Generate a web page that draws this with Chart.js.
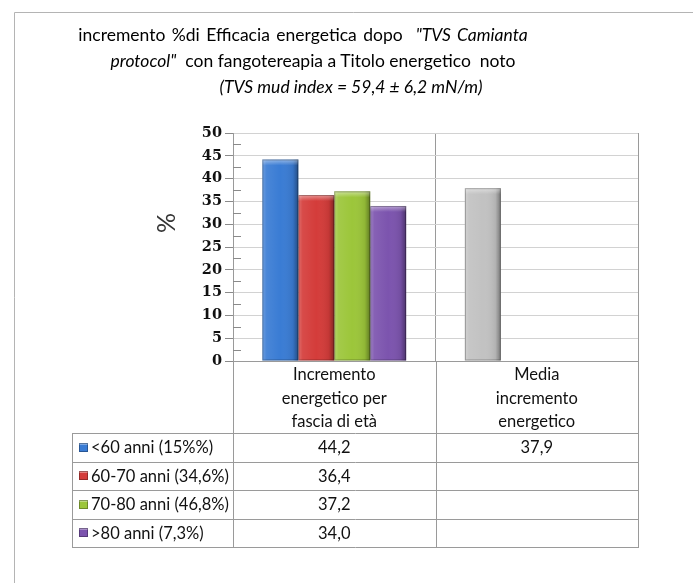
<!DOCTYPE html>
<html>
<head>
<meta charset="utf-8">
<script src="https://cdn.jsdelivr.net/npm/chart.js@4.4.1/dist/chart.umd.min.js"></script>
<style>
  html, body { margin: 0; padding: 0; background: #fff; }
  #wrap { position: relative; width: 693px; height: 583px; overflow: hidden; }
  #c { position: absolute; left: 0; top: 0; }
  .tl { position: absolute; width: 600px; text-align: center; white-space: pre;
        font-family: Lato, "Open Sans", sans-serif; font-size: 17.5px; line-height: 26px; color: #000; }
</style>
</head>
<body>
<div id="wrap">
  <canvas id="c" width="693" height="583"></canvas>
  <div class="tl" style="left:3px; top:22px; word-spacing:2px;">incremento %di Efficacia energetica dopo  <i>"TVS Camianta</i></div>
  <div class="tl" style="left:13px; top:48px;"><i>protocol"</i>  con fangotereapia a Titolo energetico  noto</div>
  <div class="tl" style="left:51px; top:74px;"><i>(TVS mud index = 59,4 ± 6,2 mN/m)</i></div>
</div>
<script>
// ---- data ----
const categories = [["Incremento", "energetico per", "fascia di età"], ["Media", "incremento", "energetico"]];
const seriesLabels = ["<60 anni (15%%)", "60-70 anni (34,6%)", "70-80 anni (46,8%)", ">80 anni (7,3%)"];
const series1 = [44.2, 37.9];
const series2 = [36.4, null];
const series3 = [37.2, null];
const series4 = [34.0, null];
const yTicks = [0, 5, 10, 15, 20, 25, 30, 35, 40, 45, 50];
const seriesColors = ["#3a7cd4", "#d43c3a", "#9cc63a", "#7c54ae"];
const mediaColor = "#c2c2c2";
const seriesData = [series1, series2, series3, series4];

const fmt = v => (v === null || v === undefined) ? "" : v.toFixed(1).replace(".", ",");

const TABLE_FONT = "16.5px Lato, 'Open Sans', sans-serif";
const LINE = "#9a9a9a";

const framePlugin = {
  id: "frame",
  beforeDraw(chart) {
    const ctx = chart.ctx;
    ctx.save();
    ctx.strokeStyle = "#b4b4b4";
    ctx.lineWidth = 1;
    ctx.beginPath();
    ctx.moveTo(14.5, 583); ctx.lineTo(14.5, 12.5); ctx.lineTo(693, 12.5);
    ctx.stroke();
    ctx.restore();
  }
};

const bevelPlugin = {
  id: "bevel",
  afterDatasetsDraw(chart) {
    const ctx = chart.ctx;
    ctx.save();
    chart.data.datasets.forEach((ds, di) => {
      const meta = chart.getDatasetMeta(di);
      meta.data.forEach((bar, i) => {
        if (ds.data[i] === null) return;
        const p = bar.getProps(["x", "y", "base", "width"], true);
        const l = p.x - p.width / 2, r = p.x + p.width / 2, t = p.y, b = p.base;
        const g = ctx.createLinearGradient(l, 0, r, 0);
        g.addColorStop(0, "rgba(255,255,255,0.25)");
        g.addColorStop(0.12, "rgba(255,255,255,0.08)");
        g.addColorStop(0.5, "rgba(255,255,255,0)");
        g.addColorStop(0.85, "rgba(0,0,0,0.08)");
        g.addColorStop(1, "rgba(0,0,0,0.38)");
        ctx.fillStyle = g;
        ctx.fillRect(l, t, r - l, b - t);
        const g2 = ctx.createLinearGradient(0, t, 0, t + 6);
        g2.addColorStop(0, "rgba(255,255,255,0.45)");
        g2.addColorStop(1, "rgba(255,255,255,0)");
        ctx.fillStyle = g2;
        ctx.fillRect(l, t, r - l, 6);
        ctx.strokeStyle = "rgba(0,0,0,0.28)";
        ctx.lineWidth = 1;
        ctx.strokeRect(l + 0.5, t + 0.5, r - l - 1, b - t - 1);
      });
    });
    ctx.restore();
  }
};

const tablePlugin = {
  id: "table",
  afterDraw(chart) {
    const ctx = chart.ctx;
    const ca = chart.chartArea;
    const xs = chart.scales.x, ys = chart.scales.y;
    ctx.save();
    // minor ticks
    ctx.strokeStyle = "#8a8a8a";
    ctx.lineWidth = 1;
    for (let k = 0; k < yTicks.length - 1; k++) {
      const v = (yTicks[k] + yTicks[k + 1]) / 2;
      const y = Math.round(ys.getPixelForValue(v)) + 0.5;
      ctx.beginPath(); ctx.moveTo(ca.left, y); ctx.lineTo(ca.left + 8, y); ctx.stroke();
    }
    // y title
    ctx.save();
    ctx.translate(167, 223);
    ctx.rotate(-Math.PI / 2);
    ctx.font = "25px Lato, 'Open Sans', sans-serif";
    ctx.fillStyle = "#333";
    ctx.textAlign = "center";
    ctx.textBaseline = "middle";
    ctx.fillText("%", 0, 0);
    ctx.restore();

    // table geometry
    const top = ca.bottom;
    const headerH = 72;
    const rowH = 28.5;
    const legendLeft = 72;
    const bounds = [ca.left];
    for (let i = 0; i < categories.length; i++) {
      const c = xs.getPixelForValue(i);
      const next = i < categories.length - 1 ? xs.getPixelForValue(i + 1) : null;
      bounds.push(next === null ? ca.right : (c + next) / 2);
    }
    const rowsTop = top + headerH;
    const bottom = rowsTop + rowH * seriesLabels.length;

    ctx.strokeStyle = LINE;
    ctx.lineWidth = 1;
    ctx.beginPath();
    bounds.forEach(bx => {
      const x = Math.round(bx) + 0.5;
      ctx.moveTo(x, top); ctx.lineTo(x, bottom);
    });
    ctx.moveTo(legendLeft + 0.5, rowsTop); ctx.lineTo(legendLeft + 0.5, bottom);
    for (let r = 0; r <= seriesLabels.length; r++) {
      const y = Math.round(rowsTop + r * rowH) + 0.5;
      ctx.moveTo(legendLeft, y); ctx.lineTo(ca.right + 1, y);
    }
    ctx.stroke();

    // header text
    ctx.font = TABLE_FONT;
    ctx.fillStyle = "#111";
    ctx.textAlign = "center";
    ctx.textBaseline = "middle";
    const headOffsets = [14, 37.5, 61];
    categories.forEach((lines, i) => {
      const cx = (bounds[i] + bounds[i + 1]) / 2;
      lines.forEach((ln, j) => ctx.fillText(ln, cx, top + headOffsets[j]));
    });
    // rows
    seriesLabels.forEach((lab, r) => {
      const cy = rowsTop + r * rowH + rowH / 2;
      const kc = seriesColors[r];
      const kx = 79, ks = 9;
      const ky = Math.round(cy - ks / 2);
      ctx.fillStyle = kc;
      ctx.fillRect(kx, ky, ks, ks);
      ctx.fillStyle = "rgba(255,255,255,0.35)";
      ctx.fillRect(kx, ky, ks, 2);
      ctx.strokeStyle = "rgba(0,0,0,0.3)";
      ctx.strokeRect(kx + 0.5, ky + 0.5, ks - 1, ks - 1);
      ctx.fillStyle = "#111";
      ctx.textAlign = "left";
      ctx.fillText(lab, 91, cy + 0.5);
      ctx.textAlign = "center";
      seriesData[r].forEach((v, i) => {
        const cx = (bounds[i] + bounds[i + 1]) / 2;
        ctx.fillText(fmt(v), cx, cy + 0.5);
      });
    });
    ctx.restore();
  }
};

const datasets = seriesData.map((d, i) => ({
  label: seriesLabels[i],
  data: d,
  backgroundColor: d.map((v, j) => (i === 0 && j === 1) ? mediaColor : seriesColors[i]),
  borderWidth: 0,
  categoryPercentage: 0.71,
  barPercentage: 1.0
}));

new Chart(document.getElementById("c"), {
  type: "bar",
  data: { labels: categories.map(c => c.join(" ")), datasets },
  options: {
    responsive: false,
    animation: false,
    devicePixelRatio: 1,
    layout: { padding: { left: 0, top: 133, right: 55, bottom: 222 } },
    plugins: { legend: { display: false }, title: { display: false }, tooltip: { enabled: false } },
    scales: {
      x: {
        ticks: { display: false },
        grid: { offset: true, color: LINE, drawTicks: false, lineWidth: 1 },
        border: { color: LINE, width: 1 },
        afterFit(s) { s.height = 0; }
      },
      y: {
        min: 0, max: 50,
        afterBuildTicks(s) { s.ticks = yTicks.map(v => ({ value: v })); },
        ticks: {
          font: { family: "'DejaVu Serif', serif", size: 14.5, weight: "bold" },
          color: "#111",
          padding: 3
        },
        grid: { color: "#d2d2d2", lineWidth: 1, tickLength: 8, tickColor: "#8a8a8a" },
        border: { color: LINE, width: 1 },
        afterFit(s) { s.width = 233; }
      }
    }
  },
  plugins: [framePlugin, bevelPlugin, tablePlugin]
});
</script>
</body>
</html>
